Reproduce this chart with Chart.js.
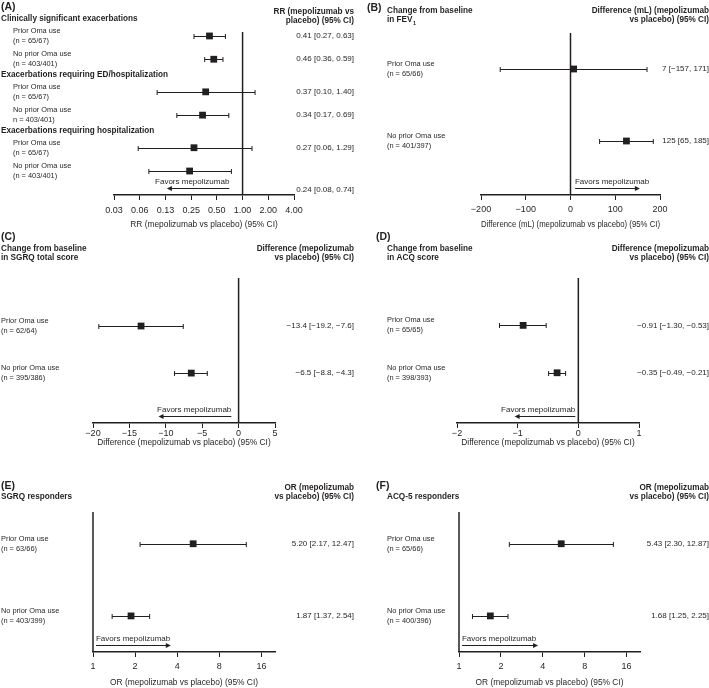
<!DOCTYPE html>
<html>
<head>
<meta charset="utf-8">
<title>Forest plots - mepolizumab by prior omalizumab use</title>
<script src="https://cdn.jsdelivr.net/npm/chart.js@4.4.1/dist/chart.umd.min.js"></script>
<style>
  html, body { margin: 0; padding: 0; background: #fff; }
  #fig { position: relative; width: 709px; height: 688px; overflow: hidden; }
  #fig canvas { position: absolute; }
</style>
</head>
<body>
<div id="fig">
  <canvas id="A"></canvas>
  <canvas id="B"></canvas>
  <canvas id="C"></canvas>
  <canvas id="D"></canvas>
  <canvas id="E"></canvas>
  <canvas id="F"></canvas>
</div>
<script>
// ---- data ----
// (A) exacerbations, rate ratio
const aGroups = ['Clinically significant exacerbations', 'Exacerbations requiring ED/hospitalization', 'Exacerbations requiring hospitalization'];
const aLabels = ['Prior Oma use', 'No prior Oma use', 'Prior Oma use', 'No prior Oma use', 'Prior Oma use', 'No prior Oma use'];
const aN = ['(n = 65/67)', '(n = 403/401)', '(n = 65/67)', 'n = 403/401)', '(n = 65/67)', '(n = 403/401)'];
const aEst = [0.41, 0.46, 0.37, 0.34, 0.27, 0.24];
const aLow = [0.27, 0.36, 0.10, 0.17, 0.06, 0.08];
const aHigh = [0.63, 0.59, 1.40, 0.69, 1.29, 0.74];
const aTicks = [0.03125, 0.0625, 0.125, 0.25, 0.5, 1, 2, 4];
const aTickLabels = ['0.03', '0.06', '0.13', '0.25', '0.50', '1.00', '2.00', '4.00'];

// (B) FEV1, difference in mL
const bLabels = ['Prior Oma use', 'No prior Oma use'];
const bN = ['(n = 65/66)', '(n = 401/397)'];
const bEst = [7, 125];
const bLow = [-157, 65];
const bHigh = [171, 185];
const bTicks = [-200, -100, 0, 100, 200];
const bTickLabels = ['\u2212200', '\u2212100', '0', '100', '200'];

// (C) SGRQ total score
const cLabels = ['Prior Oma use', 'No prior Oma use'];
const cN = ['(n = 62/64)', '(n = 395/386)'];
const cEst = [-13.4, -6.5];
const cLow = [-19.2, -8.8];
const cHigh = [-7.6, -4.3];
const cTicks = [-20, -15, -10, -5, 0, 5];
const cTickLabels = ['\u221220', '\u221215', '\u221210', '\u22125', '0', '5'];

// (D) ACQ score
const dLabels = ['Prior Oma use', 'No prior Oma use'];
const dN = ['(n = 65/65)', '(n = 398/393)'];
const dEst = [-0.91, -0.35];
const dLow = [-1.30, -0.49];
const dHigh = [-0.53, -0.21];
const dTicks = [-2, -1, 0, 1];
const dTickLabels = ['\u22122', '\u22121', '0', '1'];

// (E) SGRQ responders, odds ratio
const eLabels = ['Prior Oma use', 'No prior Oma use'];
const eN = ['(n = 63/66)', '(n = 403/399)'];
const eEst = [5.20, 1.87];
const eLow = [2.17, 1.37];
const eHigh = [12.47, 2.54];

// (F) ACQ-5 responders, odds ratio
const fLabels = ['Prior Oma use', 'No prior Oma use'];
const fN = ['(n = 65/66)', '(n = 400/396)'];
const fEst = [5.43, 1.68];
const fLow = [2.30, 1.25];
const fHigh = [12.87, 2.25];

const orTicks = [1, 2, 4, 8, 16];
const orTickLabels = ['1', '2', '4', '8', '16'];

// ---- styling ----
const INK = '#231f20';
const FAMILY = "'Liberation Sans', Arial, Helvetica, sans-serif";
const font = (size, bold) => (bold ? 'bold ' : '') + size + 'px ' + FAMILY;
const fmt = (v, d) => v.toFixed(d).replace('-', '\u2212');

// draws reference line, whiskers and all the annotation text of one panel
function makeForest(p) {
  return {
    id: 'forest' + p.id,
    beforeDatasetsDraw(chart) {
      const { ctx, chartArea: a, scales: { x, y } } = chart;
      ctx.save();
      ctx.strokeStyle = INK;
      ctx.lineWidth = 1.5;
      const rx = x.getPixelForValue(p.ref);
      ctx.beginPath();
      ctx.moveTo(rx, a.top);
      ctx.lineTo(rx, a.bottom);
      ctx.stroke();
      ctx.lineWidth = 1;
      p.low.forEach((lo, i) => {
        const py = Math.round(y.getPixelForValue(p.rows[i])) + 0.5;
        const x1 = x.getPixelForValue(lo);
        const x2 = x.getPixelForValue(p.high[i]);
        ctx.beginPath();
        ctx.moveTo(x1, py); ctx.lineTo(x2, py);
        ctx.moveTo(x1, py - 2.5); ctx.lineTo(x1, py + 2.5);
        ctx.moveTo(x2, py - 2.5); ctx.lineTo(x2, py + 2.5);
        ctx.stroke();
      });
      ctx.restore();
    },
    afterDraw(chart) {
      const { ctx, chartArea: a, scales: { x, y } } = chart;
      ctx.save();
      ctx.fillStyle = INK;
      ctx.strokeStyle = INK;
      ctx.textBaseline = 'middle';

      // panel letter
      ctx.font = font(10.5, true);
      ctx.textAlign = 'left';
      ctx.fillText(p.letter, p.letterX, p.letterY);

      // column headers
      ctx.font = font(8.2, true);
      p.leftHead.forEach((t, i) => {
        ctx.textAlign = 'left';
        ctx.fillText(t, p.headX, p.headY[i + p.leftStart]);
        if (p.sub && i === p.leftHead.length - 1) {
          const w = ctx.measureText(t).width;
          ctx.font = font(5.5, true);
          ctx.fillText(p.sub, p.headX + w + 0.5, p.headY[i + p.leftStart] + 3);
          ctx.font = font(8.2, true);
        }
      });
      ctx.textAlign = 'right';
      p.rightHead.forEach((t, i) => ctx.fillText(t, p.rightX, p.headY[i]));

      // group headers (panel A)
      if (p.groups) {
        ctx.textAlign = 'left';
        p.groups.forEach((g, gi) => {
          ctx.fillText(g, 1, y.getPixelForValue(p.rows[gi * 2] - 0.72));
        });
      }

      // row labels and estimates
      p.labels.forEach((t, i) => {
        const py = y.getPixelForValue(p.rows[i]);
        ctx.textAlign = 'left';
        ctx.font = font(7.4);
        ctx.fillText(t, p.labelX, py - 5);
        ctx.fillText(p.nText[i], p.labelX, py + 5);
        ctx.textAlign = 'right';
        ctx.font = font(8);
        const s = fmt(p.est[i], p.dec) + ' [' + fmt(p.low[i], p.dec) + ', ' + fmt(p.high[i], p.dec) + ']';
        ctx.fillText(s, p.rightX, py + (p.ciDy ? p.ciDy[i] : 0));
      });

      // "Favors mepolizumab" arrow
      const sx = x.getPixelForValue(p.favors[0]);
      const ex = x.getPixelForValue(p.favors[1]);
      const ay = a.bottom - 6.5;
      const dir = ex > sx ? 1 : -1;
      ctx.lineWidth = 1;
      ctx.beginPath();
      ctx.moveTo(sx, ay); ctx.lineTo(ex - dir * 4, ay);
      ctx.stroke();
      ctx.beginPath();
      ctx.moveTo(ex, ay); ctx.lineTo(ex - dir * 5, ay - 2.5); ctx.lineTo(ex - dir * 5, ay + 2.5);
      ctx.closePath();
      ctx.fill();
      ctx.font = font(8);
      ctx.textAlign = dir > 0 ? 'left' : 'right';
      ctx.fillText('Favors mepolizumab', sx, a.bottom - 13.5);
      ctx.restore();
    }
  };
}

const twoRows = [0, 1];
const panels = [
  { id: 'A', left: 0, top: 0, w: 355, h: 235, area: { l: 114, r: 294, t: 32, b: 195 }, axisH: 35, tickPad: 5,
    log: true, min: 0.03125, max: 4, ticks: aTicks, tickLabels: aTickLabels,
    axisTitle: 'RR (mepolizumab vs placebo) (95% CI)', ref: 1,
    est: aEst, low: aLow, high: aHigh, dec: 2,
    rows: aEst.map((_, i) => Math.floor(i / 2) * 2.4 + (i % 2)), yMin: -0.17, yMax: 6.83,
    labels: aLabels, nText: aN, labelX: 13, groups: aGroups,
    letter: '(A)', letterX: 1, letterY: 7,
    leftHead: [], leftStart: 0, headX: 1, rightHead: ['RR (mepolizumab vs', 'placebo) (95% CI)'], headY: [12, 21], rightX: 354,
    favors: [0.7, 0.13], ciDy: [0, 0, 0, 0, 0, 19] },
  { id: 'B', left: 355, top: 0, w: 354, h: 235, area: { l: 126, r: 305, t: 33, b: 195 }, axisH: 35, tickPad: 4,
    log: false, min: -200, max: 200, ticks: bTicks, tickLabels: bTickLabels,
    axisTitle: 'Difference (mL) (mepolizumab vs placebo) (95% CI)', ref: 0,
    est: bEst, low: bLow, high: bHigh, dec: 0,
    rows: twoRows, yMin: -0.5, yMax: 1.75,
    labels: bLabels, nText: bN, labelX: 32,
    letter: '(B)', letterX: 12, letterY: 8,
    leftHead: ['Change from baseline', 'in FEV'], leftStart: 0, sub: '1', headX: 32,
    rightHead: ['Difference (mL) (mepolizumab', 'vs placebo) (95% CI)'], headY: [11, 20], rightX: 354,
    favors: [10, 155] },
  { id: 'C', left: 0, top: 225, w: 355, h: 228, area: { l: 93, r: 275, t: 53, b: 198 }, axisH: 25, tickPad: 0,
    log: false, min: -20, max: 5, ticks: cTicks, tickLabels: cTickLabels,
    axisTitle: 'Difference (mepolizumab vs placebo) (95% CI)', ref: 0,
    est: cEst, low: cLow, high: cHigh, dec: 1,
    rows: twoRows, yMin: -1.02, yMax: 2.06,
    labels: cLabels, nText: cN, labelX: 1,
    letter: '(C)', letterX: 1, letterY: 12,
    leftHead: ['Change from baseline', 'in SGRQ total score'], leftStart: 0, headX: 1,
    rightHead: ['Difference (mepolizumab', 'vs placebo) (95% CI)'], headY: [24, 33], rightX: 354,
    favors: [-1, -11] },
  { id: 'D', left: 355, top: 225, w: 354, h: 228, area: { l: 102, r: 284, t: 53, b: 198 }, axisH: 25, tickPad: 0,
    log: false, min: -2, max: 1, ticks: dTicks, tickLabels: dTickLabels,
    axisTitle: 'Difference (mepolizumab vs placebo) (95% CI)', ref: 0,
    est: dEst, low: dLow, high: dHigh, dec: 2,
    rows: twoRows, yMin: -1.0, yMax: 2.06,
    labels: dLabels, nText: dN, labelX: 32,
    letter: '(D)', letterX: 21, letterY: 12,
    leftHead: ['Change from baseline', 'in ACQ score'], leftStart: 0, headX: 32,
    rightHead: ['Difference (mepolizumab', 'vs placebo) (95% CI)'], headY: [24, 33], rightX: 354,
    favors: [-0.05, -1.05] },
  { id: 'E', left: 0, top: 450, w: 355, h: 238, area: { l: 93, r: 275, t: 62, b: 202 }, axisH: 36, tickPad: 4,
    log: true, min: 1, max: 20, ticks: orTicks, tickLabels: orTickLabels,
    axisTitle: 'OR (mepolizumab vs placebo) (95% CI)', ref: 1,
    est: eEst, low: eLow, high: eHigh, dec: 2,
    rows: twoRows, yMin: -0.44, yMax: 1.5,
    labels: eLabels, nText: eN, labelX: 1,
    letter: '(E)', letterX: 1, letterY: 36,
    leftHead: ['SGRQ responders'], leftStart: 1, headX: 1,
    rightHead: ['OR (mepolizumab', 'vs placebo) (95% CI)'], headY: [38, 47], rightX: 354,
    favors: [1.05, 3.6] },
  { id: 'F', left: 355, top: 450, w: 354, h: 238, area: { l: 104, r: 285, t: 62, b: 202 }, axisH: 36, tickPad: 4,
    log: true, min: 1, max: 20, ticks: orTicks, tickLabels: orTickLabels,
    axisTitle: 'OR (mepolizumab vs placebo) (95% CI)', ref: 1,
    est: fEst, low: fLow, high: fHigh, dec: 2,
    rows: twoRows, yMin: -0.44, yMax: 1.5,
    labels: fLabels, nText: fN, labelX: 32,
    letter: '(F)', letterX: 21, letterY: 36,
    leftHead: ['ACQ-5 responders'], leftStart: 1, headX: 32,
    rightHead: ['OR (mepolizumab', 'vs placebo) (95% CI)'], headY: [38, 47], rightX: 354,
    favors: [1.05, 3.7] }
];

function drawPanel(p) {
  const canvas = document.getElementById(p.id);
  canvas.width = p.w;
  canvas.height = p.h;
  canvas.style.left = p.left + 'px';
  canvas.style.top = p.top + 'px';
  new Chart(canvas, {
    type: 'scatter',
    data: {
      datasets: [{
        data: p.est.map((v, i) => ({ x: v, y: p.rows[i] })),
        pointStyle: 'rect',
        pointRadius: 4.8,
        pointHoverRadius: 4.8,
        backgroundColor: INK,
        borderWidth: 0
      }]
    },
    options: {
      responsive: false,
      animation: false,
      events: [],
      layout: { padding: { left: p.area.l, right: p.w - p.area.r, top: p.area.t, bottom: p.h - p.area.b - p.axisH } },
      plugins: { legend: { display: false }, tooltip: { enabled: false } },
      scales: {
        x: {
          type: p.log ? 'logarithmic' : 'linear',
          min: p.min,
          max: p.max,
          afterBuildTicks: s => { s.ticks = p.ticks.map(v => ({ value: v })); },
          afterFit: s => { s.height = p.axisH; },
          ticks: {
            callback: (v, i) => p.tickLabels[i],
            font: { family: FAMILY, size: 9 },
            color: INK,
            padding: p.tickPad,
            maxRotation: 0,
            autoSkip: false
          },
          grid: { display: true, drawOnChartArea: false, drawTicks: true, tickLength: 5, color: INK, lineWidth: 1 },
          border: { display: true, color: INK, width: 1.5 },
          title: { display: true, text: p.axisTitle, font: { family: FAMILY, size: 8.4 }, color: INK, padding: 0 }
        },
        y: { type: 'linear', display: false, reverse: true, min: p.yMin, max: p.yMax }
      }
    },
    plugins: [makeForest(p)]
  });
}

panels.forEach(drawPanel);
</script>
</body>
</html>
